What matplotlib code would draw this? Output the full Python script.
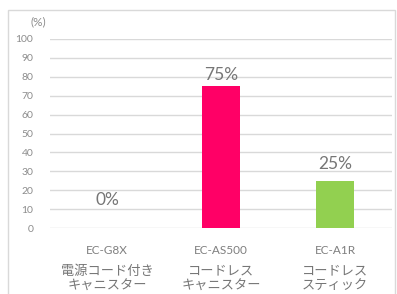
import matplotlib
matplotlib.use("Agg")
import matplotlib.pyplot as plt
from matplotlib.patches import Rectangle

models = ["EC-G8X", "EC-AS500", "EC-A1R"]
types = ["電源コード付き\nキャニスター", "コードレス\nキャニスター", "コードレス\nスティック"]
shares = [0, 75, 25]
bar_colors = ["#FF0066", "#FF0066", "#92D050"]
label_offsets = [20, 8, 12]  # points above bar top (label centre)
yticks = list(range(0, 101, 10))

plt.rcParams["font.family"] = ["Lato", "Noto Sans CJK JP", "DejaVu Sans"]

fig = plt.figure(figsize=(3.97, 2.94), dpi=100)
fig.patches.append(Rectangle((8 / 397, -0.1), (395 - 8) / 397, 1 - 10 / 294 + 0.1,
                             transform=fig.transFigure, fill=False,
                             edgecolor="#d9d9d9", linewidth=1))

ax = fig.add_axes([50 / 397, 1 - 228 / 294, 342 / 397, (228 - 39) / 294])
x = range(len(models))
bars = ax.bar(x, shares, width=0.33, color=bar_colors, zorder=3)

for xi, v, off in zip(x, shares, label_offsets):
    ax.annotate(f"{v}%", (xi, v), xytext=(0, off), textcoords="offset points",
                ha="center", va="center", fontsize=12.5, color="#767676")

ax.set_xlim(-0.5, len(models) - 0.5)
ax.set_ylim(0, 100)
ax.set_yticks(yticks)
ax.set_yticklabels([str(t) for t in yticks], fontsize=7.5, color="#8c8c8c")
ax.set_xticks(list(x))
ax.set_xticklabels(models, fontsize=8.5, color="#7f7f7f")
ax.tick_params(axis="both", length=0)
ax.tick_params(axis="y", pad=12)
ax.tick_params(axis="x", pad=12)
ax.grid(axis="y", color="#d9d9d9", linewidth=1, zorder=0)
for s in ax.spines.values():
    s.set_visible(False)

for xi, t in zip(x, types):
    ax.text(xi, -0.195, t, transform=ax.get_xaxis_transform(), ha="center", va="top",
            fontsize=9.5, color="#767676", linespacing=1.15,
            family=["Noto Sans CJK JP", "DejaVu Sans"])

fig.text(38 / 397, 1 - 22 / 294, "(%)", ha="center", va="center", fontsize=8.5, color="#8c8c8c")

fig.savefig("out.png", dpi=100)
